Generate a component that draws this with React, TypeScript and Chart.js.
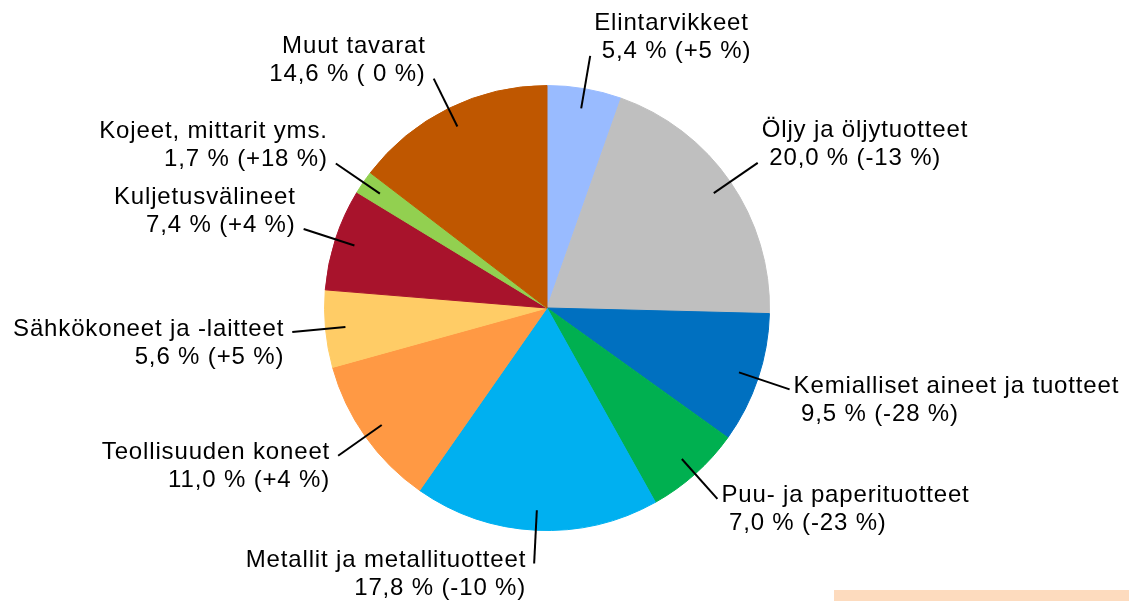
import React, { useEffect, useRef } from "react";
import { Chart, registerables } from "chart.js";

Chart.register(...registerables);

const categories = [
  "Elintarvikkeet",
  "Öljy ja öljytuotteet",
  "Kemialliset aineet ja tuotteet",
  "Puu- ja paperituotteet",
  "Metallit ja metallituotteet",
  "Teollisuuden koneet",
  "Sähkökoneet ja -laitteet",
  "Kuljetusvälineet",
  "Kojeet, mittarit yms.",
  "Muut tavarat",
];
const shares = [5.4, 20.0, 9.5, 7.0, 17.8, 11.0, 5.6, 7.4, 1.7, 14.6];
const changes = ["+5 %", "-13 %", "-28 %", "-23 %", "-10 %", "+4 %", "+5 %", "+4 %", "+18 %", " 0 %"];
const colors = [
  "#99BBFF",
  "#BFBFBF",
  "#0070C0",
  "#00B050",
  "#00B0F0",
  "#FF9944",
  "#FFCC66",
  "#A8132C",
  "#92D050",
  "#BF5700",
];

const fmt = (v: number) => v.toFixed(1).replace(".", ",");

const labelPlugin = {
  id: "leaderLabels",
  afterDraw(chart: any) {
    const ctx = chart.ctx;
    const meta = chart.getDatasetMeta(0);
    ctx.save();
    ctx.font = "24px 'Liberation Sans', Arial, sans-serif";
    (ctx as any).letterSpacing = "0.85px";
    ctx.fillStyle = "#000";
    ctx.strokeStyle = "#000";
    ctx.lineWidth = 2;
    ctx.textBaseline = "middle";
    const lh = 28;
    meta.data.forEach((arc: any, i: number) => {
      const mid = (arc.startAngle + arc.endAngle) / 2;
      const r = arc.outerRadius;
      const cx = arc.x;
      const cy = arc.y;
      const sx = cx + Math.cos(mid) * r * 0.91;
      const sy = cy + Math.sin(mid) * r * 0.91;
      const ex = cx + Math.cos(mid) * r * 1.15;
      const ey = cy + Math.sin(mid) * r * 1.15;
      ctx.beginPath();
      ctx.moveTo(sx, sy);
      ctx.lineTo(ex, ey);
      ctx.stroke();
      const right = Math.cos(mid) >= 0;
      const line1 = categories[i];
      const line2 = (right ? " " : "") + fmt(shares[i]) + " % (" + changes[i] + ")";
      let y1: number;
      if (ey < cy) {
        y1 = ey - 4 - lh;
      } else {
        y1 = ey - 3;
      }
      if (right) {
        ctx.textAlign = "left";
        ctx.fillText(line1, ex + 4, y1);
        ctx.fillText(line2, ex + 4, y1 + lh);
      } else {
        ctx.textAlign = "right";
        ctx.fillText(line1, ex - 8, y1);
        ctx.fillText(line2, ex - 8, y1 + lh);
      }
    });
    ctx.restore();
  },
};

export default function App() {
  const ref = useRef<HTMLCanvasElement | null>(null);
  useEffect(() => {
    if (!ref.current) return;
    const chart = new Chart(ref.current, {
      type: "pie",
      data: {
        labels: categories,
        datasets: [
          {
            data: shares,
            backgroundColor: colors,
            borderColor: colors,
            borderWidth: 1,
          },
        ],
      },
      options: {
        animation: false,
        responsive: false,
        maintainAspectRatio: false,
        layout: { padding: { left: 324, right: 359, top: 85, bottom: 70 } },
        plugins: {
          legend: { display: false },
          tooltip: { enabled: false },
          title: { display: false },
        },
      },
      plugins: [labelPlugin],
    });
    return () => chart.destroy();
  }, []);
  return (
    <div style={{ position: "fixed", left: 0, top: 0, width: 1129, height: 601, background: "#fff" }}>
      <canvas ref={ref} width={1129} height={601} style={{ display: "block" }} />
      <div
        style={{
          position: "absolute",
          left: 834,
          top: 590,
          width: 295,
          height: 11,
          background: "#FDDBBE",
        }}
      />
    </div>
  );
}
